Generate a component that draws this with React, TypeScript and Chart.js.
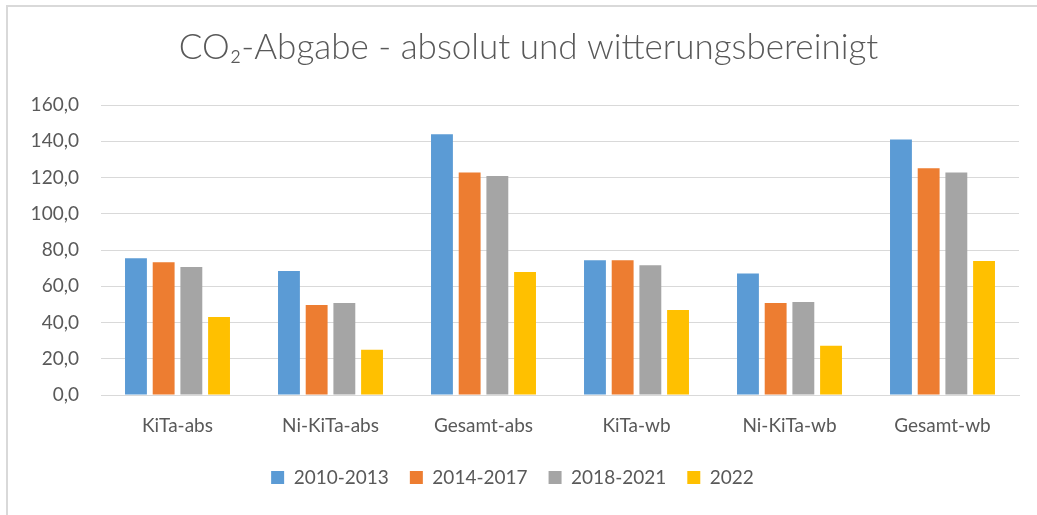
import React, { useEffect, useRef } from "react";
import { Chart, registerables } from "chart.js";

Chart.register(...registerables);

const categories = ["KiTa-abs", "Ni-KiTa-abs", "Gesamt-abs", "KiTa-wb", "Ni-KiTa-wb", "Gesamt-wb"];
const seriesNames = ["2010-2013", "2014-2017", "2018-2021", "2022"];
const values2010_2013 = [75.4, 68.4, 143.8, 74.3, 67.1, 141.0];
const values2014_2017 = [73.2, 49.7, 122.7, 74.3, 50.8, 125.1];
const values2018_2021 = [70.6, 50.8, 120.8, 71.6, 51.3, 122.7];
const values2022 = [43.0, 25.0, 67.9, 46.9, 27.2, 73.9];
const seriesColors = ["#5B9BD5", "#ED7D31", "#A5A5A5", "#FFC000"];
const yTicks = [0, 20, 40, 60, 80, 100, 120, 140, 160];
const titleText = "CO\u2082-Abgabe - absolut und witterungsbereinigt";

const FONT = "Lato, 'Open Sans', sans-serif";
const TEXT = "#595959";

const shiftBlocks = {
  id: "shiftBlocks",
  afterLayout(chart: any) {
    if (chart.titleBlock) {
      chart.titleBlock.left += 19;
      chart.titleBlock.right += 19;
    }
    if (chart.legend) {
      chart.legend.left += 3;
      chart.legend.right += 3;
    }
  },
};

export default function App() {
  const ref = useRef<HTMLCanvasElement | null>(null);
  useEffect(() => {
    if (!ref.current) return;
    const all = [values2010_2013, values2014_2017, values2018_2021, values2022];
    const chart = new Chart(ref.current, {
      type: "bar",
      data: {
        labels: categories,
        datasets: seriesNames.map((n, i) => ({
          label: n,
          data: all[i],
          backgroundColor: seriesColors[i],
          borderWidth: 0,
          categoryPercentage: 0.724,
          barPercentage: 0.79,
        })),
      },
      plugins: [shiftBlocks],
      options: {
        animation: false,
        responsive: false,
        maintainAspectRatio: false,
        layout: { padding: { left: 0, right: 18, top: 0, bottom: 18 } },
        plugins: {
          title: {
            display: true,
            text: titleText,
            color: TEXT,
            font: { family: FONT, size: 35, weight: "300", lineHeight: 1.2 },
            padding: { top: 27, bottom: 36 },
          },
          legend: {
            position: "bottom",
            labels: {
              color: TEXT,
              font: { family: FONT, size: 19 },
              boxWidth: 13,
              boxHeight: 13,
              padding: 21,
            },
          },
          tooltip: { enabled: false },
        },
        scales: {
          x: {
            grid: { display: false, drawTicks: false },
            border: { color: "#D9D9D9", width: 1 },
            ticks: { color: TEXT, font: { family: FONT, size: 19 }, padding: 19, maxRotation: 0 },
            afterFit: (s: any) => { s.height = 52; },
          },
          y: {
            min: 0,
            max: 160,
            afterBuildTicks: (s: any) => { s.ticks = yTicks.map((v) => ({ value: v })); },
            grid: { color: "#D9D9D9", lineWidth: 1, drawTicks: false },
            border: { display: false },
            ticks: {
              color: TEXT,
              font: { family: FONT, size: 19 },
              padding: 22,
              callback: (v: any) => Number(v).toFixed(1).replace(".", ","),
            },
            afterFit: (s: any) => { s.width = 101; },
          },
        },
      },
    });
    return () => chart.destroy();
  }, []);
  return (
    <div style={{ position: "fixed", left: 0, top: 0, width: 1037, height: 515, background: "#fff" }}>
      <div style={{ position: "absolute", left: 6, top: 5, right: -10, bottom: -10, borderLeft: "2px solid #D9D9D9", borderTop: "2px solid #D9D9D9" }} />
      <canvas ref={ref} width={1037} height={515} style={{ position: "absolute", left: 0, top: 0 }} />
    </div>
  );
}
